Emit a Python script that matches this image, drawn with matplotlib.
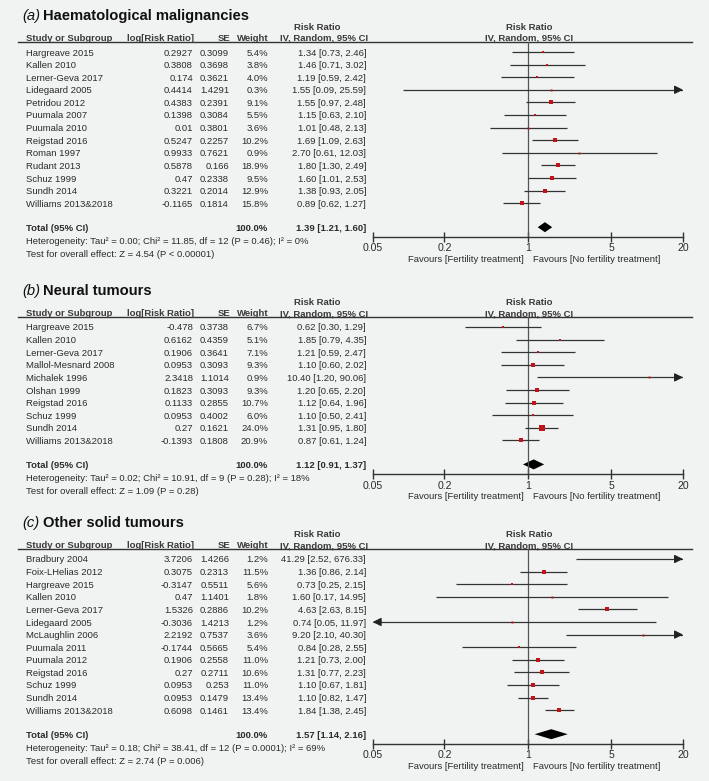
import matplotlib
matplotlib.use('Agg')
import matplotlib.pyplot as plt
import numpy as np

W, H = 709, 781
BG = '#f1f2f2'
TXT = '#2b2b2b'
SQ = '#c0141c'
plt.rcParams['font.family'] = ['Liberation Sans', 'DejaVu Sans']

XMIN, XMAX = 0.05, 20
XTICKS = [0.05, 0.2, 1, 5, 20]
XTICKLABELS = ['0.05', '0.2', '1', '5', '20']

# (a) Haematological malignancies
A_STUDIES = ['Hargreave 2015', 'Kallen 2010', 'Lerner-Geva 2017', 'Lidegaard 2005', 'Petridou 2012',
             'Puumala 2007', 'Puumala 2010', 'Reigstad 2016', 'Roman 1997', 'Rudant 2013',
             'Schuz 1999', 'Sundh 2014', 'Williams 2013&2018']
A_LOGRR = [0.2927, 0.3808, 0.174, 0.4414, 0.4383, 0.1398, 0.01, 0.5247, 0.9933, 0.5878, 0.47, 0.3221, -0.1165]
A_SE = [0.3099, 0.3698, 0.3621, 1.4291, 0.2391, 0.3084, 0.3801, 0.2257, 0.7621, 0.166, 0.2338, 0.2014, 0.1814]
A_WEIGHT = [5.4, 3.8, 4.0, 0.3, 9.1, 5.5, 3.6, 10.2, 0.9, 18.9, 9.5, 12.9, 15.8]
A_RR = [1.34, 1.46, 1.19, 1.55, 1.55, 1.15, 1.01, 1.69, 2.70, 1.80, 1.60, 1.38, 0.89]
A_LO = [0.73, 0.71, 0.59, 0.09, 0.97, 0.63, 0.48, 1.09, 0.61, 1.30, 1.01, 0.93, 0.62]
A_HI = [2.46, 3.02, 2.42, 25.59, 2.48, 2.10, 2.13, 2.63, 12.03, 2.49, 2.53, 2.05, 1.27]
A_TOTAL = [1.39, 1.21, 1.60]
A_HET = 'Heterogeneity: Tau\u00b2 = 0.00; Chi\u00b2 = 11.85, df = 12 (P = 0.46); I\u00b2 = 0%'
A_TEST = 'Test for overall effect: Z = 4.54 (P < 0.00001)'

# (b) Neural tumours
B_STUDIES = ['Hargreave 2015', 'Kallen 2010', 'Lerner-Geva 2017', 'Mallol-Mesnard 2008', 'Michalek 1996',
             'Olshan 1999', 'Reigstad 2016', 'Schuz 1999', 'Sundh 2014', 'Williams 2013&2018']
B_LOGRR = [-0.478, 0.6162, 0.1906, 0.0953, 2.3418, 0.1823, 0.1133, 0.0953, 0.27, -0.1393]
B_SE = [0.3738, 0.4359, 0.3641, 0.3093, 1.1014, 0.3093, 0.2855, 0.4002, 0.1621, 0.1808]
B_WEIGHT = [6.7, 5.1, 7.1, 9.3, 0.9, 9.3, 10.7, 6.0, 24.0, 20.9]
B_RR = [0.62, 1.85, 1.21, 1.10, 10.40, 1.20, 1.12, 1.10, 1.31, 0.87]
B_LO = [0.30, 0.79, 0.59, 0.60, 1.20, 0.65, 0.64, 0.50, 0.95, 0.61]
B_HI = [1.29, 4.35, 2.47, 2.02, 90.06, 2.20, 1.96, 2.41, 1.80, 1.24]
B_TOTAL = [1.12, 0.91, 1.37]
B_HET = 'Heterogeneity: Tau\u00b2 = 0.02; Chi\u00b2 = 10.91, df = 9 (P = 0.28); I\u00b2 = 18%'
B_TEST = 'Test for overall effect: Z = 1.09 (P = 0.28)'

# (c) Other solid tumours
C_STUDIES = ['Bradbury 2004', 'Foix-LHelias 2012', 'Hargreave 2015', 'Kallen 2010', 'Lerner-Geva 2017',
             'Lidegaard 2005', 'McLaughlin 2006', 'Puumala 2011', 'Puumala 2012', 'Reigstad 2016',
             'Schuz 1999', 'Sundh 2014', 'Williams 2013&2018']
C_LOGRR = [3.7206, 0.3075, -0.3147, 0.47, 1.5326, -0.3036, 2.2192, -0.1744, 0.1906, 0.27, 0.0953, 0.0953, 0.6098]
C_SE = [1.4266, 0.2313, 0.5511, 1.1401, 0.2886, 1.4213, 0.7537, 0.5665, 0.2558, 0.2711, 0.253, 0.1479, 0.1461]
C_WEIGHT = [1.2, 11.5, 5.6, 1.8, 10.2, 1.2, 3.6, 5.4, 11.0, 10.6, 11.0, 13.4, 13.4]
C_RR = [41.29, 1.36, 0.73, 1.60, 4.63, 0.74, 9.20, 0.84, 1.21, 1.31, 1.10, 1.10, 1.84]
C_LO = [2.52, 0.86, 0.25, 0.17, 2.63, 0.05, 2.10, 0.28, 0.73, 0.77, 0.67, 0.82, 1.38]
C_HI = [676.33, 2.14, 2.15, 14.95, 8.15, 11.97, 40.30, 2.55, 2.00, 2.23, 1.81, 1.47, 2.45]
C_TOTAL = [1.57, 1.14, 2.16]
C_HET = 'Heterogeneity: Tau\u00b2 = 0.18; Chi\u00b2 = 38.41, df = 12 (P = 0.0001); I\u00b2 = 69%'
C_TEST = 'Test for overall effect: Z = 2.74 (P = 0.006)'

FS = 6.8
FS_TITLE = 10.6

fig = plt.figure(figsize=(W / 100, H / 100), dpi=100, facecolor=BG)
base = fig.add_axes([0, 0, 1, 1])
base.set_xlim(0, W)
base.set_ylim(H, 0)
base.axis('off')
base.set_facecolor(BG)

X_LEFT, X_RIGHT = 372.7, 683.0


def draw_panel(top, tag, title, studies, logrr, se, weight, rr, lo, hi, total, het, test):
    n = len(studies)
    y_line = top + 26
    rows = y_line + 10 + 12.6 * np.arange(n)
    y_total = rows[-1] + 24
    y_axis = y_total + 10

    # title
    base.text(22, top, '(' + tag + ')', fontsize=FS_TITLE, style='italic', color='#111', va='center')
    base.text(43, top, title, fontsize=FS_TITLE, weight='bold', color='#111', va='center')

    # headers
    hk = dict(fontsize=FS, weight='bold', color='#3a3a3a', va='baseline')
    base.text(317, top + 14, 'Risk Ratio', ha='center', **hk)
    base.text(529, top + 14, 'Risk Ratio', ha='center', **hk)
    yh = y_line - 1
    base.text(26, yh, 'Study or Subgroup', ha='left', **hk)
    base.text(194, yh, 'log[Risk Ratio]', ha='right', **hk)
    base.text(230, yh, 'SE', ha='right', **hk)
    base.text(269, yh, 'Weight', ha='right', **hk)
    base.text(368, yh, 'IV, Random, 95% CI', ha='right', **hk)
    base.text(529, yh, 'IV, Random, 95% CI', ha='center', **hk)
    base.plot([18, 692], [y_line, y_line], color='#333', lw=1.0)

    rk = dict(fontsize=FS, color=TXT, va='center_baseline')
    for i in range(n):
        y = rows[i]
        base.text(26, y, studies[i], ha='left', **rk)
        base.text(193, y, str(logrr[i]), ha='right', **rk)
        base.text(229, y, str(se[i]), ha='right', **rk)
        base.text(268, y, '%.1f%%' % weight[i], ha='right', **rk)
        base.text(366, y, '%.2f [%.2f, %.2f]' % (rr[i], lo[i], hi[i]), ha='right', **rk)

    tk = dict(fontsize=FS, color=TXT, va='center_baseline', weight='bold')
    base.text(26, y_total, 'Total (95% CI)', ha='left', **tk)
    base.text(268, y_total, '100.0%', ha='right', **tk)
    base.text(366, y_total, '%.2f [%.2f, %.2f]' % tuple(total), ha='right', **tk)
    base.text(26, y_total + 13, het, ha='left', **rk)
    base.text(26, y_total + 26, test, ha='left', **rk)

    # forest plot axes, y in pixel units
    ax = fig.add_axes([X_LEFT / W, 1 - y_axis / H, (X_RIGHT - X_LEFT) / W, (y_axis - y_line) / H])
    ax.set_facecolor('none')
    ax.set_xscale('log')
    ax.set_xlim(XMIN, XMAX)
    ax.set_ylim(y_axis, y_line)
    for s in ['top', 'left', 'right']:
        ax.spines[s].set_visible(False)
    ax.spines['bottom'].set_color('#333')
    ax.spines['bottom'].set_linewidth(1.0)
    ax.set_yticks([])
    ax.set_xticks(XTICKS)
    ax.set_xticklabels(XTICKLABELS)
    ax.minorticks_off()
    ax.tick_params(axis='x', direction='inout', length=7, width=1.0, color='#333',
                   labelsize=7.6, labelcolor=TXT, pad=1)
    ax.axvline(1, color='#555', lw=0.9)

    for i in range(n):
        y = rows[i]
        a, b = max(lo[i], XMIN), min(hi[i], XMAX)
        ax.plot([a, b], [y, y], color='#333', lw=0.9, solid_capstyle='butt')
        if hi[i] > XMAX:
            ax.annotate('', xy=(XMAX, y), xytext=(XMAX * 0.85, y),
                        arrowprops=dict(arrowstyle='-|>,head_length=0.5,head_width=0.25',
                                        color='#222', lw=0.9, shrinkA=0, shrinkB=0),
                        annotation_clip=False)
        if lo[i] <= XMIN:
            ax.annotate('', xy=(XMIN, y), xytext=(XMIN / 0.85, y),
                        arrowprops=dict(arrowstyle='-|>,head_length=0.5,head_width=0.25',
                                        color='#222', lw=0.9, shrinkA=0, shrinkB=0),
                        annotation_clip=False)
        if XMIN < rr[i] < XMAX:
            ms = max(1.4, 0.75 * np.sqrt(weight[i]))
            ax.plot(rr[i], y, marker='s', ms=ms, color=SQ, mec=SQ, mew=0)

    est, tlo, thi = total
    ax.fill([tlo, est, thi, est], [y_total, y_total - 5, y_total, y_total + 5], color='black', lw=0)

    x1 = 528
    base.text(x1 - 4, y_axis + 21, 'Favours [Fertility treatment]', ha='right', fontsize=FS,
              color=TXT, va='center_baseline')
    base.text(x1 + 5, y_axis + 21, 'Favours [No fertility treatment]', ha='left', fontsize=FS,
              color=TXT, va='center_baseline')


draw_panel(16, 'a', 'Haematological malignancies', A_STUDIES, A_LOGRR, A_SE, A_WEIGHT,
           A_RR, A_LO, A_HI, A_TOTAL, A_HET, A_TEST)
draw_panel(291, 'b', 'Neural tumours', B_STUDIES, B_LOGRR, B_SE, B_WEIGHT,
           B_RR, B_LO, B_HI, B_TOTAL, B_HET, B_TEST)
draw_panel(523, 'c', 'Other solid tumours', C_STUDIES, C_LOGRR, C_SE, C_WEIGHT,
           C_RR, C_LO, C_HI, C_TOTAL, C_HET, C_TEST)

fig.savefig('out.png', dpi=100, facecolor=BG)
